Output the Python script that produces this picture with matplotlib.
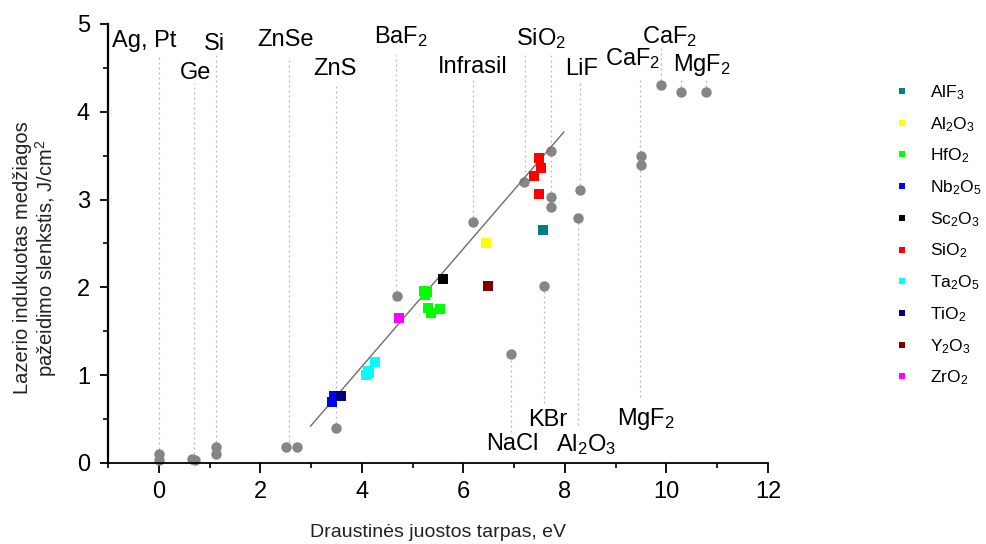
import matplotlib
matplotlib.use('Agg')
import matplotlib.pyplot as plt
from matplotlib.lines import Line2D

plt.rcParams['font.family'] = ['Liberation Sans', 'DejaVu Sans']
plt.rcParams['mathtext.fontset'] = 'custom'
plt.rcParams['mathtext.rm'] = 'Liberation Sans'
plt.rcParams['mathtext.it'] = 'Liberation Sans:italic'
plt.rcParams['mathtext.bf'] = 'Liberation Sans:bold'

# ---------------- data ----------------
# bulk materials (gray circles): band gap (eV), LIDT (J/cm2)
bulk_x = [0.0, 0.0, 0.66, 0.72, 1.12, 1.12, 2.50, 2.72, 3.50, 4.70, 6.19, 6.94,
          7.19, 7.73, 7.73, 7.73, 7.59, 8.29, 8.25, 9.50, 9.50, 9.90, 10.28, 10.77]
bulk_y = [0.10, 0.03, 0.05, 0.03, 0.18, 0.10, 0.18, 0.18, 0.40, 1.90, 2.74, 1.24,
          3.20, 3.55, 3.03, 2.92, 2.02, 3.11, 2.79, 3.50, 3.39, 4.31, 4.22, 4.22]

# coatings (colored squares)
alf3_x, alf3_y = [7.57], [2.65]
al2o3_x, al2o3_y = [6.45], [2.51]
hfo2_x = [5.22, 5.28, 5.25, 5.30, 5.36, 5.54]
hfo2_y = [1.96, 1.95, 1.91, 1.77, 1.71, 1.75]
nb2o5_x, nb2o5_y = [3.45, 3.41], [0.76, 0.69]
sc2o3_x, sc2o3_y = [5.59], [2.09]
sio2_x = [7.49, 7.53, 7.40, 7.49]
sio2_y = [3.47, 3.36, 3.27, 3.06]
ta2o5_x = [4.26, 4.12, 4.09, 4.15]
ta2o5_y = [1.15, 1.05, 1.00, 1.02]
tio2_x, tio2_y = [3.58], [0.76]
y2o3_x, y2o3_y = [6.48], [2.02]
zro2_x, zro2_y = [4.73], [1.65]

coating_labels = [r'AlF$_\mathregular{3}$', r'Al$_\mathregular{2}$O$_\mathregular{3}$',
                  r'HfO$_\mathregular{2}$', r'Nb$_\mathregular{2}$O$_\mathregular{5}$',
                  r'Sc$_\mathregular{2}$O$_\mathregular{3}$', r'SiO$_\mathregular{2}$',
                  r'Ta$_\mathregular{2}$O$_\mathregular{5}$', r'TiO$_\mathregular{2}$',
                  r'Y$_\mathregular{2}$O$_\mathregular{3}$', r'ZrO$_\mathregular{2}$']
coating_colors = ['#008080', '#ffff00', '#00ff00', '#0000ff', '#000000',
                  '#ff0000', '#00ffff', '#000080', '#800000', '#ff00ff']
coating_xs = [alf3_x, al2o3_x, hfo2_x, nb2o5_x, sc2o3_x, sio2_x, ta2o5_x, tio2_x, y2o3_x, zro2_x]
coating_ys = [alf3_y, al2o3_y, hfo2_y, nb2o5_y, sc2o3_y, sio2_y, ta2o5_y, tio2_y, y2o3_y, zro2_y]

# linear fit line
fit_x = [2.99, 7.98]
fit_y = [0.42, 3.77]

# dotted guide lines: x, y_top, y_bottom
guide_x = [0.0, 0.69, 1.12, 2.56, 3.50, 4.67, 6.19, 7.22, 7.73, 8.29, 9.47, 9.90, 10.28, 10.77, 6.94, 7.59, 8.25]
guide_top = [4.62, 4.33, 4.65, 4.62, 4.33, 4.65, 4.36, 4.68, 4.68, 4.36, 4.38, 4.74, 4.38, 4.38, 1.24, 2.02, 2.79]
guide_bot = [0.10, 0.05, 0.18, 0.18, 0.40, 1.90, 2.74, 3.20, 2.92, 3.11, 0.75, 4.31, 4.22, 4.22, 0.35, 0.68, 0.43]

# material labels
label_text = ['Ag, Pt', 'Ge', 'Si', 'ZnSe', 'ZnS', r'BaF$_\mathregular{2}$', 'Infrasil',
              r'SiO$_\mathregular{2}$', 'LiF', r'CaF$_\mathregular{2}$', r'CaF$_\mathregular{2}$',
              r'MgF$_\mathregular{2}$', 'NaCl', 'KBr', r'Al$_\mathregular{2}$O$_\mathregular{3}$',
              r'MgF$_\mathregular{2}$']
label_x = [-0.92, 0.41, 0.886, 1.95, 3.05, 4.23, 5.50, 7.03, 8.01, 8.78, 9.52, 10.13, 6.44, 7.27, 7.83, 9.03]
label_y = [4.74, 4.37, 4.70, 4.75, 4.42, 4.78, 4.44, 4.76, 4.42, 4.53, 4.78, 4.46, 0.15, 0.42, 0.13, 0.43]

x_ticks = [0, 2, 4, 6, 8, 10, 12]
y_ticks = [0, 1, 2, 3, 4, 5]

# ---------------- figure ----------------
fig = plt.figure(figsize=(9.87, 5.44), dpi=100)
ax = fig.add_axes([0.1094, 0.1489, 0.6687, 0.807])

ax.vlines(guide_x, guide_bot, guide_top, colors='#b8b8b8', linestyles=(0, (1.5, 2.5)),
          linewidth=0.9, zorder=1)
ax.plot(bulk_x, bulk_y, 'o', color='#858585', markersize=7.5, markeredgewidth=0,
        zorder=2, clip_on=False)
ax.plot(fit_x, fit_y, '-', color='#6e6e6e', linewidth=1.0, zorder=3)
for xs, ys, c in zip(coating_xs, coating_ys, coating_colors):
    ax.plot(xs, ys, 's', color=c, markersize=6.5, markeredgewidth=0, zorder=4)

for t, x, y in zip(label_text, label_x, label_y):
    ax.text(x, y, t, fontsize=17, ha='left', va='baseline', zorder=5)

ax.set_xlim(-1, 12)
ax.set_ylim(0, 5)
ax.set_xticks(x_ticks)
ax.set_yticks(y_ticks)
ax.set_xticks(range(-1, 13, 2), minor=True)
ax.set_yticks([0.5, 1.5, 2.5, 3.5, 4.5], minor=True)
ax.tick_params(axis='both', which='major', labelsize=17, width=1.3, direction='out')
ax.tick_params(axis='x', which='major', length=7, pad=6)
ax.tick_params(axis='y', which='major', length=6, pad=7)
ax.tick_params(axis='both', which='minor', length=3.6, width=1.2, direction='out')

for s in ['top', 'right']:
    ax.spines[s].set_visible(False)
ax.spines['left'].set_linewidth(1.6)
ax.spines['bottom'].set_linewidth(1.3)

ax.set_xlabel('Draustinės juostos tarpas, eV', fontsize=14, labelpad=15, color='#222222')
fig.text(36 / 987, 1 - 258 / 544,
         'Lazerio indukuotas medžiagos\npažeidimo slenkstis, J/cm$^\\mathregular{2}$',
         rotation=90, ha='center', va='center', multialignment='center',
         fontsize=14.5, linespacing=1.1, color='#222222')

handles = [Line2D([], [], marker='s', linestyle='', color=c, markersize=5, markeredgewidth=0)
           for c in coating_colors]
ax.legend(handles, coating_labels, loc='upper left', bbox_to_anchor=(0.889, 0.876),
          bbox_transform=fig.transFigure, frameon=False, fontsize=12.5,
          handlelength=1.0, handletextpad=1.1, labelspacing=0.75, borderpad=0.4)

fig.savefig('out.png', dpi=100)
